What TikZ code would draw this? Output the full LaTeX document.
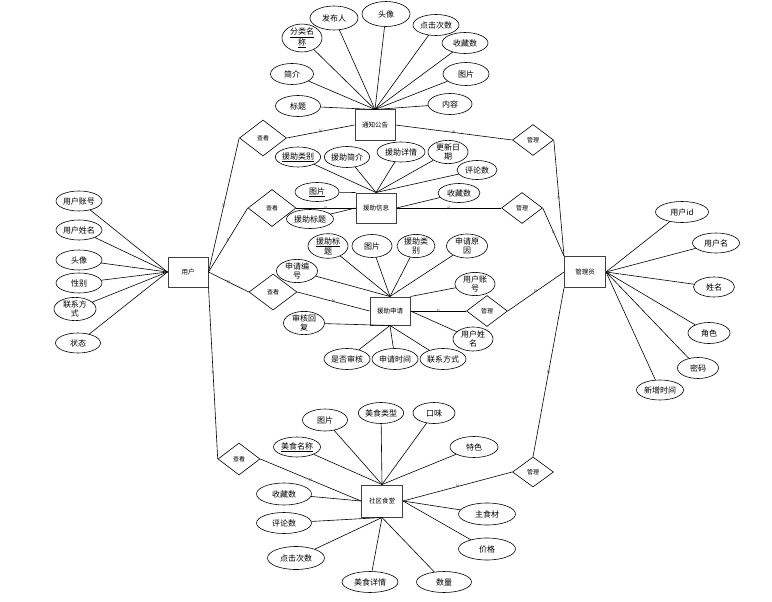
\documentclass[tikz,border=0pt]{standalone}
\usepackage{fontspec}
\setmainfont{Noto Sans CJK SC}
\usepackage{tikz}
\usetikzlibrary{shapes.geometric}

\tikzset{
  entity/.style={draw=black!75, line width=1pt, fill=white, minimum width=40pt,
                 minimum height=30pt, inner sep=0pt, font=\fontsize{6.5}{7}\selectfont},
  attr/.style={ellipse, draw=black, line width=0.6pt, fill=white, minimum width=44pt,
               minimum height=21pt, inner sep=0pt, align=center,
               font=\fontsize{8}{9}\selectfont},
  rel/.style={diamond, draw=black, line width=0.6pt, fill=white, minimum width=47pt,
              minimum height=36pt, inner sep=0pt, font=\fontsize{6}{7}\selectfont},
  card/.style={font=\fontsize{4}{4}\selectfont, text=black!70, inner sep=0.5pt}
}

\begin{document}
\begin{tikzpicture}[x=1pt, y=-1pt]
\useasboundingbox (0,0) rectangle (772,602);

\begin{scope}
    % entities
    \node[entity] (yh)  at (188,272) {用户};
    \node[entity] (tz)  at (375,125) {通知公告};
    \node[entity] (xx)  at (376,208) {援助信息};
    \node[entity, minimum height=28pt] (sq) at (390,311) {援助申请};
    \node[entity, minimum width=41pt, minimum height=32pt] (st) at (382,501) {社区食堂};
    \node[entity, minimum width=41pt, minimum height=31pt] (gly) at (585,272) {管理员};

    % relations
    \node[rel] (ck1) at (263,138) {查看};
    \node[rel, minimum width=48pt, minimum height=37pt] (ck2) at (272,208) {查看};
    \node[rel, minimum width=48pt] (ck3) at (273,292) {查看};
    \node[rel, minimum width=42pt, minimum height=32pt] (ck4) at (239,459) {查看};
    \node[rel, minimum width=41pt, minimum height=31pt] (gl1) at (533,140) {管理};
    \node[rel, minimum width=41pt, minimum height=31pt] (gl2) at (522,208) {管理};
    \node[rel, minimum width=41pt, minimum height=31pt] (gl3) at (487,311) {管理};
    \node[rel, minimum width=41pt, minimum height=30pt] (gl4) at (533,472) {管理};

    % user
    \node[attr, minimum width=46pt, minimum height=20pt] (u1) at (79,201) {用户账号};
    \node[attr, minimum width=46pt, minimum height=20pt] (u2) at (79,230) {用户姓名};
    \node[attr, minimum width=46pt, minimum height=20pt] (u3) at (79,260) {头像};
    \node[attr, minimum width=46pt, minimum height=20pt] (u4) at (79,283) {性别};
    \node[attr, minimum width=42pt] (u5) at (75,309) {联系方\\式};
    \node[attr, minimum width=45pt, minimum height=20pt] (u6) at (78,343) {状态};

    % notice
    \node[attr, minimum width=40pt, minimum height=22pt] (t1) at (302,38) {\underline{分类名}\\\underline{称}};
    \node[attr, minimum width=48pt, minimum height=24pt] (t2) at (334,18) {发布人};
    \node[attr, minimum width=48pt, minimum height=25pt] (t3) at (386,14) {头像};
    \node[attr, minimum width=46pt] (t4) at (436,25) {点击次数};
    \node[attr, minimum width=46pt] (t5) at (465,43) {收藏数};
    \node[attr, minimum width=46pt, minimum height=23pt] (t6) at (466,74) {图片};
    \node[attr] (t7) at (450,104) {内容};
    \node[attr, minimum width=45pt] (t8) at (298,106) {标题};
    \node[attr, minimum width=43pt] (t9) at (292,74) {简介};

    % aid info
    \node[attr, minimum width=45pt, minimum height=20pt] (x1) at (298,157) {\underline{援助类别}};
    \node[attr, minimum width=45pt] (x2) at (347,157) {援助简介};
    \node[attr, minimum width=48pt, minimum height=20pt] (x3) at (401,152) {援助详情};
    \node[attr, minimum width=40pt, minimum height=23pt] (x4) at (448,152) {更新日\\期};
    \node[attr, minimum width=40pt, minimum height=19pt] (x5) at (477,170) {评论数};
    \node[attr, minimum width=42pt, minimum height=19pt] (x6) at (459,193) {收藏数};
    \node[attr, minimum width=44pt, minimum height=19pt] (x7) at (317,192) {\underline{图片}};
    \node[attr, minimum width=47pt, minimum height=19pt] (x8) at (310,219) {援助标题};

    % aid application
    \node[attr, minimum width=40pt, minimum height=22pt] (s1) at (328,246) {\underline{援助标}\\题};
    \node[attr, minimum width=40pt, minimum height=23pt] (s2) at (372,246) {图片};
    \node[attr, minimum width=38pt, minimum height=23pt] (s3) at (416,246) {援助类\\别};
    \node[attr, minimum width=41pt, minimum height=24pt] (s4) at (467,246) {申请原\\因};
    \node[attr, minimum width=41pt, minimum height=23pt] (s5) at (297,271) {申请编\\号};
    \node[attr, minimum width=40pt, minimum height=23pt] (s6) at (475,284) {用户账\\号};
    \node[attr, minimum width=41pt, minimum height=23pt] (s7) at (304,323) {审核回\\复};
    \node[attr, minimum width=40pt, minimum height=24pt] (s8) at (473,339) {用户姓\\名};
    \node[attr, minimum width=46pt] (s9)  at (347,359) {是否审核};
    \node[attr, minimum width=46pt] (s10) at (395,359) {申请时间};
    \node[attr, minimum width=46pt] (s11) at (443,359) {联系方式};

    % canteen
    \node[attr, minimum width=45pt, minimum height=22pt] (c1) at (325,420) {图片};
    \node[attr, minimum width=45pt] (c2) at (381,413) {美食类型};
    \node[attr, minimum width=42pt] (c3) at (434,413) {口味};
    \node[attr, minimum width=47pt, minimum height=20pt] (c4) at (297,447) {\underline{美食名称}};
    \node[attr, minimum width=48pt] (c5) at (474,447) {特色};
    \node[attr, minimum width=55pt, minimum height=22pt] (c6) at (284,494) {收藏数};
    \node[attr, minimum width=57pt, minimum height=22pt] (c7) at (487,514) {主食材};
    \node[attr, minimum width=55pt, minimum height=21pt] (c8) at (284,523) {评论数};
    \node[attr, minimum width=57pt, minimum height=22pt] (c9) at (487,549) {价格};
    \node[attr, minimum width=57pt, minimum height=23pt] (c10) at (296,558) {点击次数};
    \node[attr, minimum width=56pt] (c11) at (370,582) {美食详情};
    \node[attr, minimum width=55pt] (c12) at (444,582) {数量};

    % admin
    \node[attr, minimum width=53pt] (a1) at (682,212) {用户id};
    \node[attr, minimum width=47pt, minimum height=20pt] (a2) at (716,243) {用户名};
    \node[attr, minimum width=41pt, minimum height=20pt] (a3) at (714,287) {姓名};
    \node[attr, minimum width=42pt] (a4) at (709,333) {角色};
    \node[attr, minimum width=41pt] (a5) at (698,368) {密码};
    \node[attr, minimum width=47pt, minimum height=20pt] (a6) at (660,390) {新增时间};
\end{scope}

\begin{scope}[every edge/.style={draw=black, line width=0.6pt}]
    % user side
    \path [-] (yh.east) edge node[card] {N} (ck1.west);
    \path [-] (ck1.east) edge node[card] {N} (tz.west);
    \path [-] (yh.east) edge node[card] {N} (ck2.west);
    \path [-] (ck2.east) edge node[card] {N} (xx.west);
    \path [-] (yh.east) edge node[card] {N} (ck3.west);
    \path [-] (ck3.east) edge node[card] {N} (sq.west);
    \path [-] (yh.south east) edge node[card] {N} (ck4.west);
    \path [-] (ck4.east) edge node[card] {N} (st.west);

    % admin side
    \path [-] (tz.east) edge node[card] {N} (gl1.west);
    \path [-] (gl1.east) edge node[card] {N} (gly.north west);
    \path [-] (xx.east) edge node[card] {N} (gl2.west);
    \path [-] (gl2.east) edge node[card] {N} (gly.north west);
    \path [-] (sq.east) edge node[card] {N} (gl3.west);
    \path [-] (gl3.east) edge node[card] {N} (gly.west);
    \path [-] (st.east) edge node[card] {N} (gl4.west);
    \path [-] (gl4.north) edge node[card] {N} (gly.south west);

    % attributes
    \foreach \a in {u1,u2,u3,u4,u5,u6}
        \path [-] (\a) edge (yh.west);
    \foreach \a in {t1,t2,t3,t4,t5,t6,t7,t8,t9}
        \path [-] (\a) edge (tz.north);
    \foreach \a in {x1,x2,x3,x4,x5}
        \path [-] (\a) edge (xx.north);
    \path [-] (x7) edge (xx.north west);
    \path [-] (x8) edge (xx.west);
    \path [-] (x6) edge (xx.east);
    \foreach \a in {s1,s2,s3,s4,s5}
        \path [-] (\a) edge (sq.north);
    \path [-] (s6) edge (sq.north east);
    \path [-] (s8) edge (sq.east);
    \foreach \a in {s7,s9,s10,s11}
        \path [-] (\a) edge (sq.south);
    \foreach \a in {c1,c2,c3,c4,c5}
        \path [-] (\a) edge (st.north);
    \path [-] (c6) edge (st.west);
    \path [-] (c7) edge (st.east);
    \path [-] (c9) edge (st.east);
    \foreach \a in {c8,c10,c11,c12}
        \path [-] (\a) edge (st.south);
    \foreach \a in {a1,a2,a3,a4,a5,a6}
        \path [-] (\a) edge (gly.east);
\end{scope}
\end{tikzpicture}
\end{document}
